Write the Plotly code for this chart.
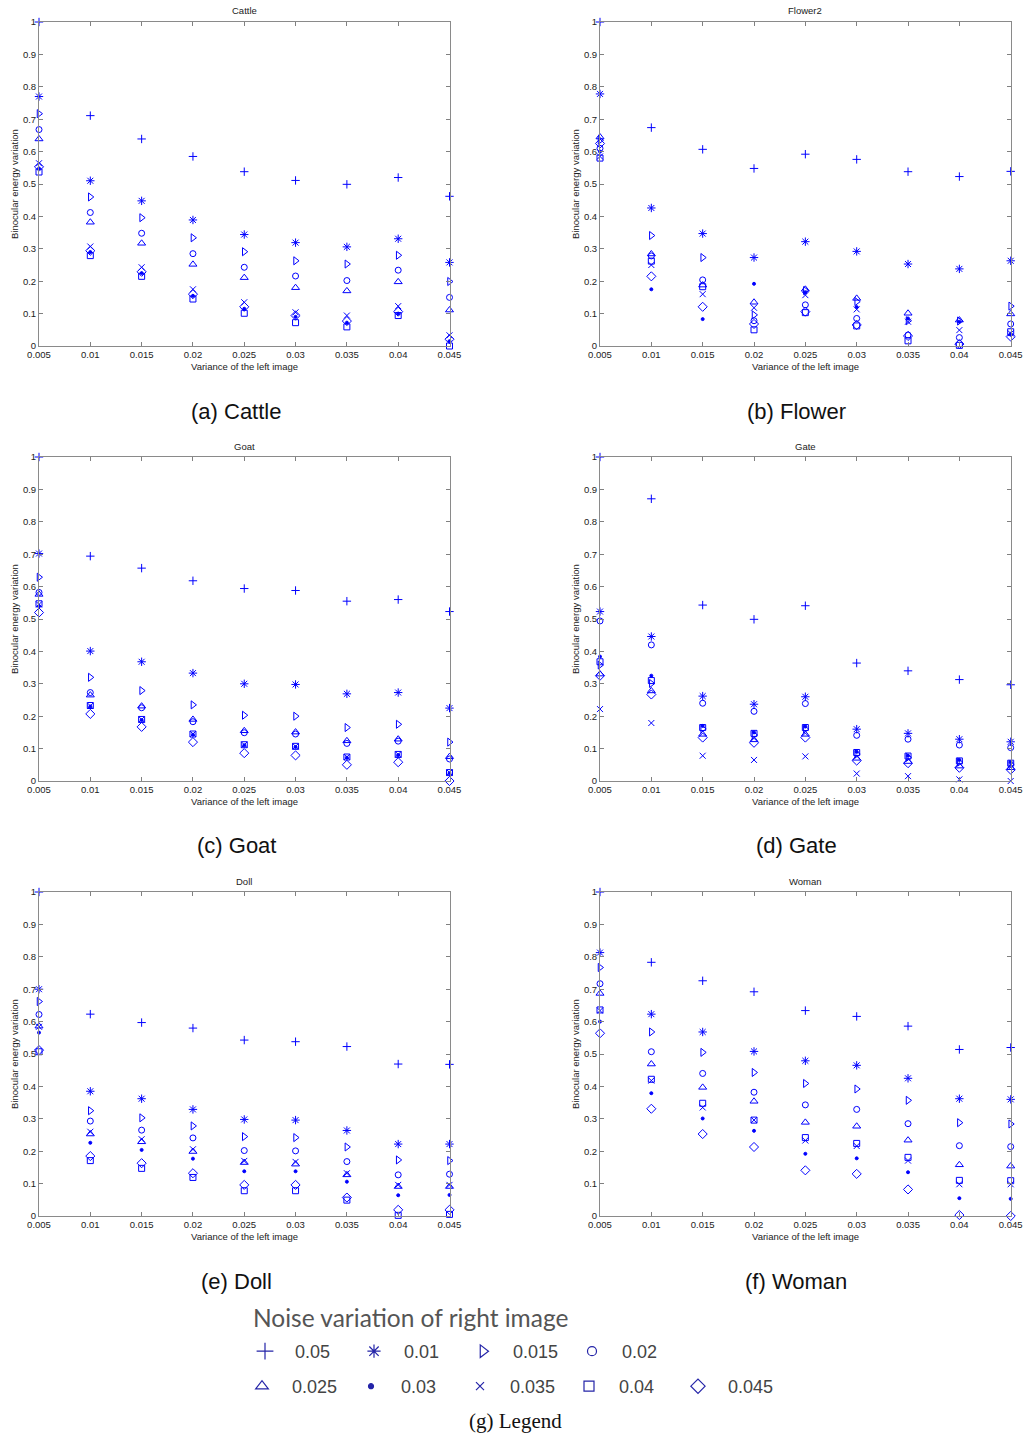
import plotly.graph_objects as go

# ---------------- data ----------------
X_VALUES = [0.005, 0.01, 0.015, 0.02, 0.025, 0.03, 0.035, 0.04, 0.045]
X_TICK_TEXT = ["0.005", "0.01", "0.015", "0.02", "0.025", "0.03", "0.035", "0.04", "0.045"]
Y_TICKS = [0, 0.1, 0.2, 0.3, 0.4, 0.5, 0.6, 0.7, 0.8, 0.9, 1.0]
Y_TICK_TEXT = ["0", "0.1", "0.2", "0.3", "0.4", "0.5", "0.6", "0.7", "0.8", "0.9", "1"]

# noise variation of right image (series), in legend order
NOISE_LABELS = ["0.05", "0.01", "0.015", "0.02", "0.025", "0.03", "0.035", "0.04", "0.045"]

# each panel: one list per series (order as NOISE_LABELS), values at X_VALUES
CATTLE = [
    [1.0, 0.711, 0.639, 0.585, 0.538, 0.511, 0.499, 0.520, 0.462],
    [0.770, 0.510, 0.448, 0.389, 0.344, 0.319, 0.306, 0.331, 0.258],
    [0.717, 0.460, 0.396, 0.334, 0.291, 0.263, 0.253, 0.280, 0.199],
    [0.668, 0.412, 0.348, 0.285, 0.243, 0.216, 0.202, 0.234, 0.150],
    [0.639, 0.382, 0.317, 0.252, 0.211, 0.180, 0.170, 0.198, 0.111],
    [0.548, 0.290, 0.225, 0.155, 0.115, 0.090, 0.072, 0.100, 0.015],
    [0.564, 0.307, 0.243, 0.175, 0.135, 0.104, 0.094, 0.123, 0.033],
    [0.537, 0.279, 0.215, 0.145, 0.101, 0.072, 0.059, 0.094, 0.0],
    [0.553, 0.294, 0.229, 0.160, 0.121, 0.094, 0.077, 0.106, 0.021],
]
FLOWER2 = [
    [1.0, 0.674, 0.607, 0.548, 0.592, 0.576, 0.538, 0.523, 0.539],
    [0.778, 0.426, 0.347, 0.273, 0.322, 0.292, 0.253, 0.238, 0.263],
    [0.635, 0.341, 0.273, 0.096, 0.171, 0.137, 0.078, 0.077, 0.123],
    [0.610, 0.278, 0.204, 0.078, 0.127, 0.085, 0.034, 0.026, 0.068],
    [0.645, 0.284, 0.188, 0.135, 0.175, 0.147, 0.101, 0.080, 0.099],
    [0.600, 0.175, 0.083, 0.192, 0.165, 0.120, 0.085, 0.075, 0.035],
    [0.585, 0.250, 0.160, 0.118, 0.157, 0.113, 0.075, 0.049, 0.039],
    [0.580, 0.262, 0.183, 0.050, 0.103, 0.062, 0.016, 0.002, 0.044],
    [0.625, 0.215, 0.121, 0.068, 0.106, 0.065, 0.031, 0.006, 0.029],
]
GOAT = [
    [1.0, 0.694, 0.657, 0.618, 0.594, 0.588, 0.555, 0.560, 0.523],
    [0.702, 0.401, 0.368, 0.333, 0.300, 0.298, 0.269, 0.273, 0.225],
    [0.629, 0.320, 0.279, 0.235, 0.203, 0.200, 0.165, 0.175, 0.120],
    [0.582, 0.273, 0.226, 0.183, 0.149, 0.145, 0.116, 0.123, 0.068],
    [0.576, 0.265, 0.231, 0.190, 0.155, 0.151, 0.124, 0.129, 0.075],
    [0.540, 0.230, 0.188, 0.143, 0.110, 0.105, 0.072, 0.080, 0.024],
    [0.545, 0.232, 0.190, 0.145, 0.112, 0.107, 0.074, 0.082, 0.026],
    [0.547, 0.233, 0.190, 0.145, 0.112, 0.107, 0.074, 0.082, 0.026],
    [0.520, 0.207, 0.167, 0.120, 0.086, 0.079, 0.050, 0.058, 0.0],
]
GATE = [
    [1.0, 0.871, 0.543, 0.499, 0.541, 0.364, 0.340, 0.313, 0.297],
    [0.523, 0.446, 0.262, 0.237, 0.260, 0.160, 0.147, 0.129, 0.121],
    [0.358, 0.301, 0.161, 0.142, 0.160, 0.083, 0.073, 0.058, 0.051],
    [0.494, 0.420, 0.240, 0.215, 0.239, 0.141, 0.129, 0.111, 0.103],
    [0.330, 0.278, 0.144, 0.127, 0.144, 0.070, 0.060, 0.046, 0.041],
    [0.384, 0.325, 0.170, 0.150, 0.168, 0.090, 0.078, 0.065, 0.058],
    [0.222, 0.179, 0.078, 0.065, 0.076, 0.023, 0.015, 0.005, 0.0],
    [0.368, 0.310, 0.165, 0.147, 0.165, 0.088, 0.077, 0.062, 0.055],
    [0.325, 0.267, 0.134, 0.118, 0.134, 0.063, 0.055, 0.041, 0.035],
]
DOLL = [
    [1.0, 0.623, 0.597, 0.580, 0.543, 0.538, 0.523, 0.469, 0.468],
    [0.700, 0.385, 0.362, 0.329, 0.298, 0.296, 0.264, 0.222, 0.222],
    [0.662, 0.325, 0.303, 0.278, 0.245, 0.242, 0.213, 0.173, 0.171],
    [0.622, 0.293, 0.265, 0.241, 0.202, 0.201, 0.168, 0.127, 0.129],
    [0.586, 0.253, 0.229, 0.199, 0.165, 0.160, 0.127, 0.091, 0.091],
    [0.566, 0.226, 0.204, 0.177, 0.138, 0.138, 0.106, 0.064, 0.065],
    [0.584, 0.260, 0.237, 0.206, 0.170, 0.167, 0.132, 0.096, 0.096],
    [0.507, 0.171, 0.147, 0.119, 0.078, 0.078, 0.049, 0.002, 0.005],
    [0.512, 0.185, 0.163, 0.132, 0.096, 0.096, 0.057, 0.019, 0.019],
]
WOMAN = [
    [1.0, 0.783, 0.726, 0.692, 0.634, 0.616, 0.586, 0.514, 0.520],
    [0.813, 0.623, 0.568, 0.508, 0.479, 0.465, 0.425, 0.362, 0.360],
    [0.767, 0.568, 0.505, 0.443, 0.409, 0.392, 0.357, 0.288, 0.284],
    [0.717, 0.507, 0.440, 0.382, 0.343, 0.329, 0.285, 0.217, 0.214],
    [0.687, 0.469, 0.397, 0.354, 0.289, 0.277, 0.234, 0.158, 0.154],
    [0.600, 0.379, 0.301, 0.263, 0.192, 0.178, 0.135, 0.055, 0.053],
    [0.634, 0.418, 0.335, 0.296, 0.233, 0.216, 0.171, 0.098, 0.098],
    [0.636, 0.422, 0.348, 0.296, 0.242, 0.224, 0.181, 0.110, 0.109],
    [0.564, 0.331, 0.253, 0.213, 0.141, 0.130, 0.082, 0.003, 0.0],
]

PANEL_TITLES = ["Cattle", "Flower2", "Goat", "Gate", "Doll", "Woman"]
PANEL_DATA = [CATTLE, FLOWER2, GOAT, GATE, DOLL, WOMAN]
CAPTIONS = ["(a) Cattle", "(b) Flower", "(c) Goat", "(d) Gate", "(e) Doll", "(f) Woman"]
X_TITLE = "Variance of the left image"
Y_TITLE = "Binocular energy variation"
LEGEND_TITLE = "Noise variation of right image"
LEGEND_CAPTION = "(g) Legend"

# ---------------- styles ----------------
W, H = 1028, 1435
SYMBOLS = ["cross-thin-open", "asterisk-open", "triangle-right-open", "circle-open",
           "triangle-up-open", "circle", "x-thin-open", "square-open", "diamond-open"]
SIZES = [6, 7, 7, 6, 7, 3, 6, 6, 7]
LEG_SIZES = [12, 11, 11, 9, 11, 5, 8, 10, 11]
BLUE = "#0000ff"
LEG_BLUE = "#2424a8"

COLS = [(39, 449.5), (600, 1010.7)]      # pixel x ranges of plot areas
ROWS = [(22, 346), (457, 781), (892, 1216)]  # pixel y ranges (top, bottom)
CAPTION_X = [236, 796]
CAPTION_Y = [411, 846, 1281]

TICK_FONT = dict(family="Liberation Sans, Arial", size=9.5, color="#222")
SMALL_FONT = dict(family="Liberation Sans, Arial", size=9.5, color="#222")
CAP_FONT = dict(family="Liberation Sans, Arial", size=22, color="#111")


def px(x):
    return x / W


def py(y):
    return 1 - y / H


fig = go.Figure()
annotations = []

for i, (title, data) in enumerate(zip(PANEL_TITLES, PANEL_DATA)):
    r, c = divmod(i, 2)
    n = i + 1
    xa = "x" if n == 1 else f"x{n}"
    ya = "y" if n == 1 else f"y{n}"
    x0, x1 = COLS[c]
    yt, yb = ROWS[r]
    axx = dict(domain=[px(x0), px(x1)], anchor=ya, range=[0.005, 0.045],
               tickvals=X_VALUES, ticktext=X_TICK_TEXT, ticks="inside", ticklen=4,
               tickcolor="#808080", showline=True, linecolor="#8a8a8a", linewidth=1,
               mirror="ticks", showgrid=False, zeroline=False, tickfont=TICK_FONT)
    axy = dict(domain=[py(yb), py(yt)], anchor=xa, range=[0, 1],
               tickvals=Y_TICKS, ticktext=Y_TICK_TEXT, ticks="inside", ticklen=4,
               tickcolor="#808080", showline=True, linecolor="#8a8a8a", linewidth=1,
               mirror="ticks", showgrid=False, zeroline=False, tickfont=TICK_FONT)
    fig.layout["xaxis" if n == 1 else f"xaxis{n}"] = axx
    fig.layout["yaxis" if n == 1 else f"yaxis{n}"] = axy

    for s, vals in enumerate(data):
        fig.add_trace(go.Scatter(
            x=X_VALUES, y=vals, mode="markers", xaxis=xa, yaxis=ya,
            showlegend=False, cliponaxis=False, hoverinfo="skip",
            marker=dict(symbol=SYMBOLS[s], size=SIZES[s], color=BLUE,
                        line=dict(color=BLUE, width=1)),
        ))

    cx = (x0 + x1) / 2
    annotations.append(dict(text=title, x=px(cx), y=py(yt - 11), xref="paper", yref="paper",
                            showarrow=False, font=SMALL_FONT, xanchor="center", yanchor="middle"))
    annotations.append(dict(text=X_TITLE, x=px(cx), y=py(yb + 20), xref="paper", yref="paper",
                            showarrow=False, font=SMALL_FONT, xanchor="center", yanchor="middle"))
    annotations.append(dict(text=Y_TITLE, x=px(x0 - 25), y=py((yt + yb) / 2), xref="paper",
                            yref="paper", showarrow=False, font=SMALL_FONT, textangle=-90,
                            xanchor="center", yanchor="middle"))
    annotations.append(dict(text=CAPTIONS[i], x=px(CAPTION_X[c]), y=py(CAPTION_Y[r]),
                            xref="paper", yref="paper", showarrow=False, font=CAP_FONT,
                            xanchor="center", yanchor="middle"))

# legend-only traces
for s, lab in enumerate(NOISE_LABELS):
    fig.add_trace(go.Scatter(
        x=[None], y=[None], mode="markers", name="\u00a0\u00a0" + lab,
        legend="legend" if s < 4 else "legend2", showlegend=True,
        marker=dict(symbol=SYMBOLS[s], size=LEG_SIZES[s], color=LEG_BLUE,
                    line=dict(color=LEG_BLUE, width=1.2)),
    ))

annotations.append(dict(text=LEGEND_TITLE, x=px(251), y=py(1317), xref="paper", yref="paper",
                        showarrow=False, xanchor="left", yanchor="middle",
                        font=dict(family="Lato, Open Sans", size=24.5, color="#555")))
annotations.append(dict(text=LEGEND_CAPTION, x=px(515), y=py(1421), xref="paper", yref="paper",
                        showarrow=False, xanchor="center", yanchor="middle",
                        font=dict(family="Liberation Serif, Times New Roman", size=21, color="#111")))

LEG_FONT = dict(family="Liberation Sans, Arial", size=18, color="#444")
fig.update_layout(
    width=W, height=H, margin=dict(l=0, r=0, t=0, b=0, autoexpand=False),
    paper_bgcolor="white", plot_bgcolor="white",
    annotations=annotations,
    legend=dict(orientation="h", x=px(245), y=py(1333), xanchor="left", yanchor="top",
                bgcolor="rgba(0,0,0,0)", font=LEG_FONT, entrywidth=64,
                entrywidthmode="pixels", itemsizing="trace", itemclick=False),
    legend2=dict(orientation="h", x=px(242), y=py(1368), xanchor="left", yanchor="top",
                 bgcolor="rgba(0,0,0,0)", font=LEG_FONT, entrywidth=64,
                 entrywidthmode="pixels", itemsizing="trace", itemclick=False),
)

fig.write_html("out.html")
